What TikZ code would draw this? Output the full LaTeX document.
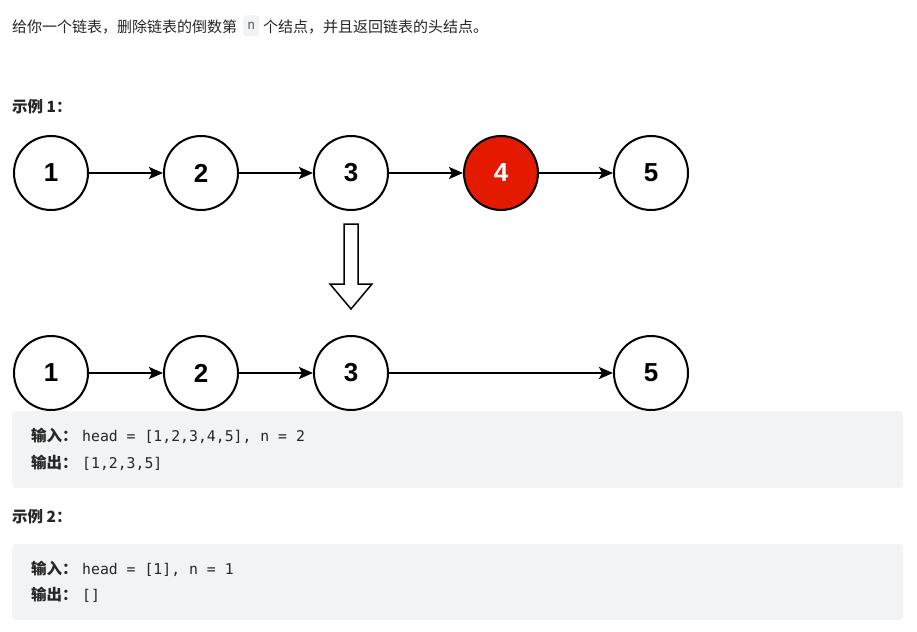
\documentclass[tikz,border=0pt]{standalone}
\usepackage{fontspec}
\usetikzlibrary{arrows.meta}
\newfontfamily\cjk{Noto Sans CJK SC}
\newfontfamily\numfont{Liberation Sans}
\newfontfamily\codefont{DejaVu Sans Mono}
\definecolor{txt}{HTML}{262626}
\definecolor{codebg}{HTML}{F2F3F5}
\definecolor{nodered}{HTML}{E31A00}
\definecolor{inl}{HTML}{5A5A5A}
\tikzset{
  lnode/.style={circle, draw=black, line width=2pt, minimum size=74pt, inner sep=0pt, fill=white,
    font=\numfont\bfseries\fontsize{26}{26}\selectfont},
  rednode/.style={lnode, fill=nodered, text=white},
  link/.style={line width=2pt, -{Stealth[length=14pt,width=12pt,inset=3pt]}},
  para/.style={anchor=west, inner sep=0pt, text=txt, font=\cjk\fontsize{15}{16}\selectfont},
  head/.style={para, font=\cjk\bfseries\fontsize{15.5}{16}\selectfont},
  codeline/.style={para, font=\cjk\fontsize{15.5}{16}\selectfont},
  codebox/.style={fill=codebg, rounded corners=4pt},
  bigarrow/.style={draw=black, line width=1.5pt, fill=white, line join=miter}
}
\newcommand{\cf}{\hspace{4.5pt}\codefont\mdseries\fontsize{14.8}{16}\selectfont}
\newcommand{\bcj}{\cjk\bfseries}
\begin{document}
\begin{tikzpicture}[x=1pt, y=-1pt]
\useasboundingbox (0,0) rectangle (917,631);
\fill[white] (0,0) rectangle (917,631);

% top sentence
\node[para] (t1) at (12,27) {给你一个链表，删除链表的倒数第};
\node[fill=codebg, rounded corners=3pt, inner xsep=0pt, inner ysep=0pt, minimum width=16pt, minimum height=21pt, anchor=west,
  text=inl, font=\codefont\fontsize{13}{14}\selectfont] (nbox) at (243,26) {n};
\node[para] (t2) at (263,27) {个结点，并且返回链表的头结点。};

\node[head] (ex1) at (12,107) {示例 1：};

% row 1
\node[lnode] (a1) at (51,173) {1};
\node[lnode] (a2) at (201,173) {2};
\node[lnode] (a3) at (351,173) {3};
\node[rednode] (a4) at (501,173) {4};
\node[lnode] (a5) at (651,173) {5};
\draw[link] (a1) -- (a2);
\draw[link] (a2) -- (a3);
\draw[link] (a3) -- (a4);
\draw[link] (a4) -- (a5);

% block arrow
\draw[bigarrow] (344,224) -- (358,224) -- (358,284) -- (372,284) -- (351,309) -- (330,284) -- (344,284) -- cycle;

% row 2
\node[lnode] (b1) at (51,373) {1};
\node[lnode] (b2) at (201,373) {2};
\node[lnode] (b3) at (351,373) {3};
\node[lnode] (b5) at (651,373) {5};
\draw[link] (b1) -- (b2);
\draw[link] (b2) -- (b3);
\draw[link] (b3) -- (b5);

% example 1 box
\fill[codebox] (12,411) rectangle (903,488);
\node[codeline] (in1) at (31,436) {\bcj 输入：\cf head = [1,2,3,4,5], n = 2};
\node[codeline] (out1) at (31,463) {\bcj 输出：\cf [1,2,3,5]};

\node[head] (ex2) at (12,517) {示例 2：};

\fill[codebox] (12,544) rectangle (903,620);
\node[codeline] (in2) at (31,569) {\bcj 输入：\cf head = [1], n = 1};
\node[codeline] (out2) at (31,595) {\bcj 输出：\cf []};
\end{tikzpicture}
\end{document}
